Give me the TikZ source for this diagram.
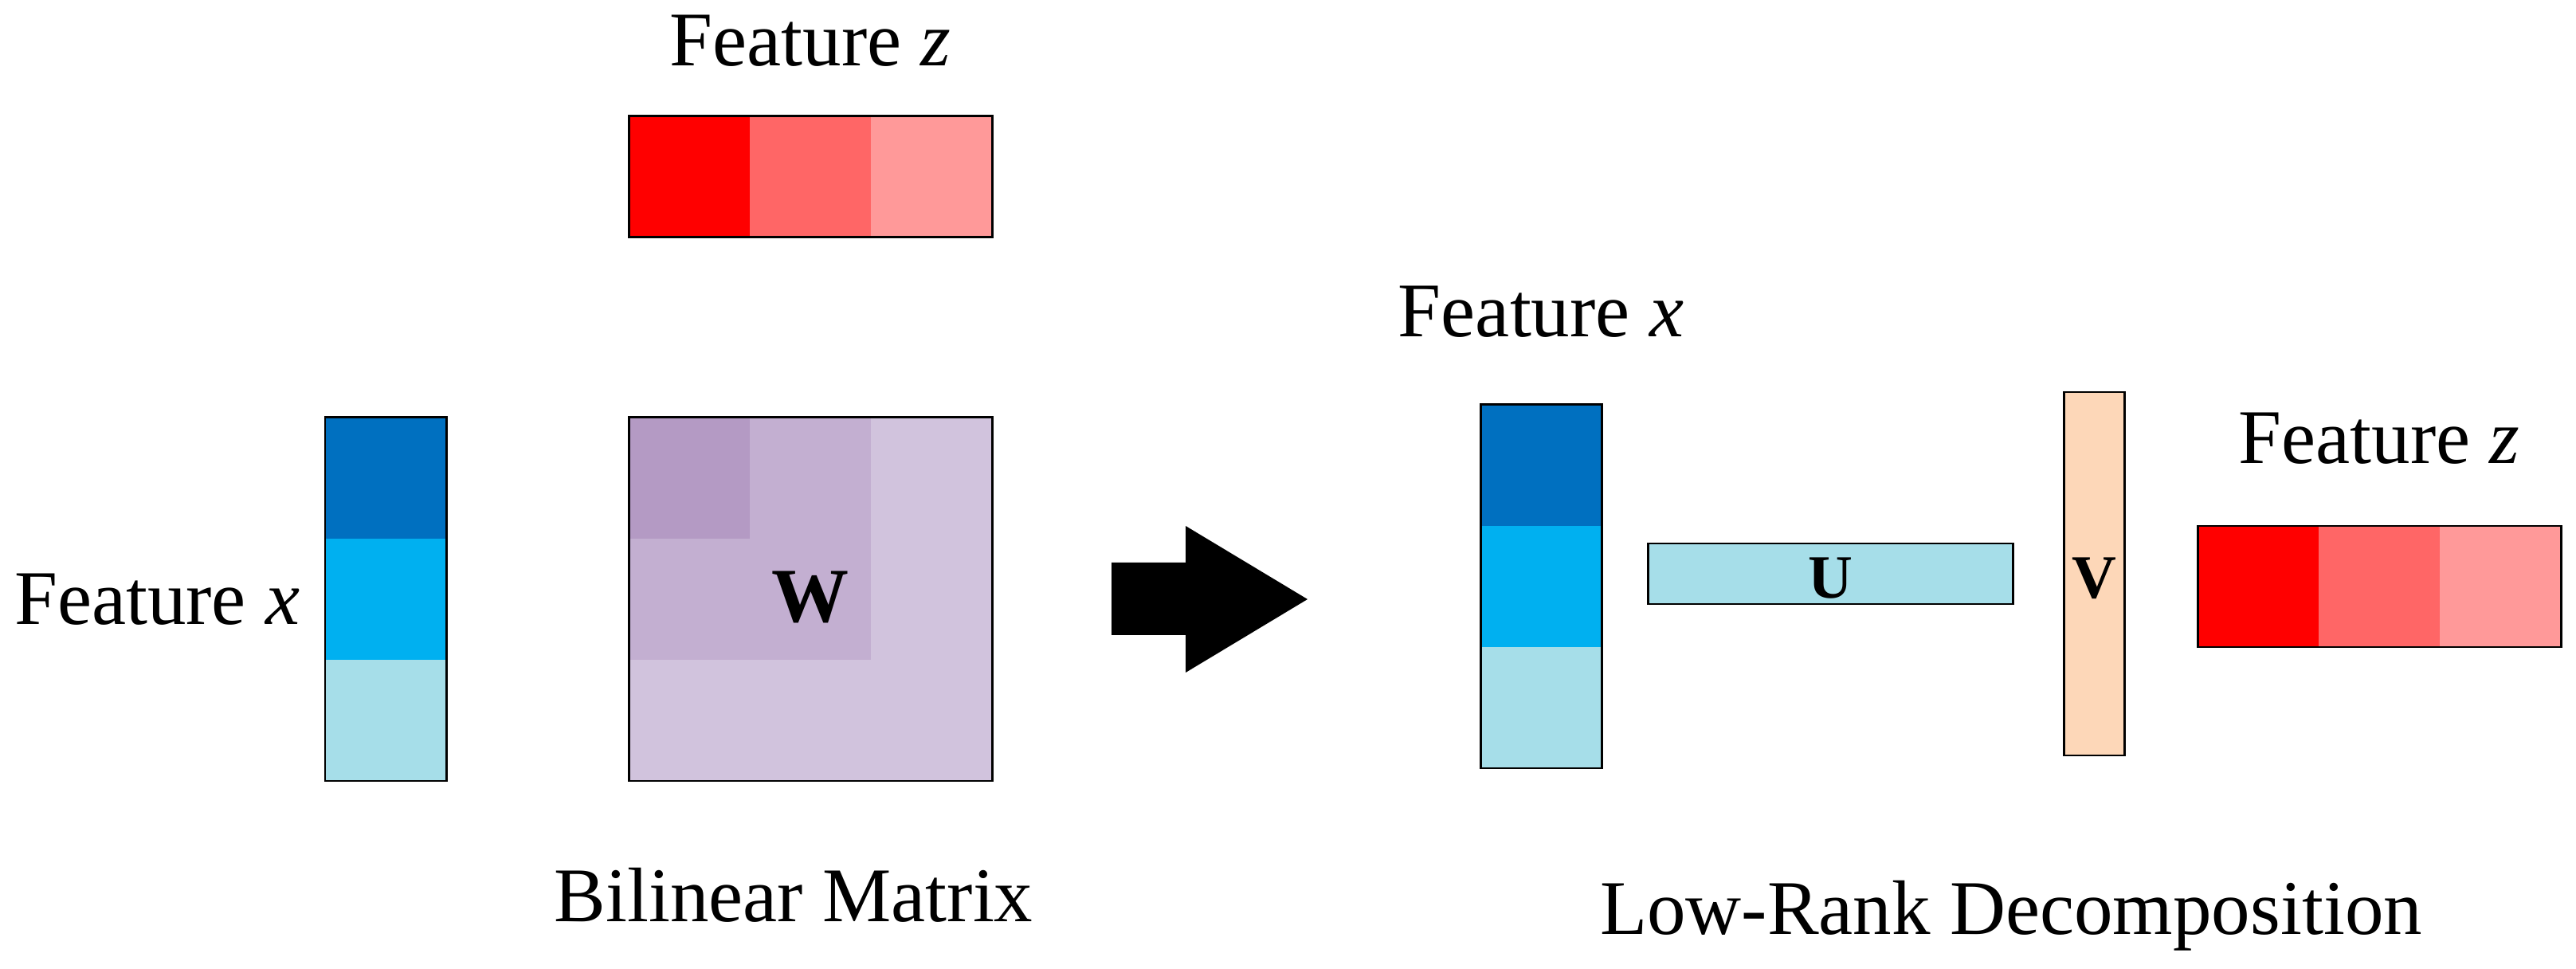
\documentclass[tikz,border=0pt]{standalone}
\usepackage{fontspec}
\setmainfont{Liberation Serif}
\usepackage{xcolor}
\usetikzlibrary{positioning}

\definecolor{blueA}{HTML}{0070C0}
\definecolor{blueB}{HTML}{00B0F0}
\definecolor{blueC}{HTML}{A6DEE9}
\definecolor{redA}{HTML}{FF0000}
\definecolor{redB}{HTML}{FF6666}
\definecolor{redC}{HTML}{FF9999}
\definecolor{purpleA}{HTML}{B49AC4}
\definecolor{purpleB}{HTML}{C3AFD1}
\definecolor{purpleC}{HTML}{D1C3DD}
\definecolor{peach}{HTML}{FDD7B8}

\begin{document}
\begin{tikzpicture}[box/.style={draw=black, line width=0.85pt},
  txt/.style={font=\fontsize{27.6}{33}\selectfont, inner sep=0pt},
  small/.style={font=\fontsize{22}{26}\selectfont\bfseries, inner sep=0pt}]
\useasboundingbox (0,0) rectangle (32.33,12.15);

% Feature z on top
\fill[redA] (7.89,9.17) rectangle (9.41,10.69);
\fill[redB] (9.41,9.17) rectangle (10.93,10.69);
\fill[redC] (10.93,9.17) rectangle (12.45,10.69);
\draw[box] (7.89,9.17) rectangle (12.45,10.69);
\node[txt, anchor=base] (zTop) at (10.17,11.32) {Feature \textit{z}};

% Feature x on the left
\fill[blueA] (4.08,5.39) rectangle (5.60,6.91);
\fill[blueB] (4.08,3.87) rectangle (5.60,5.39);
\fill[blueC] (4.08,2.35) rectangle (5.60,3.87);
\draw[box] (4.08,2.35) rectangle (5.60,6.91);
\node[txt, anchor=east] (xLeft) at (3.77,4.63) {Feature \textit{x}};

% Bilinear matrix W
\fill[purpleC] (7.89,2.35) rectangle (12.45,6.91);
\fill[purpleB] (7.89,3.87) rectangle (10.93,6.91);
\fill[purpleA] (7.89,5.39) rectangle (9.41,6.91);
\draw[box] (7.89,2.35) rectangle (12.45,6.91);
\node[txt, font=\fontsize{27.6}{33}\selectfont\bfseries] (W) at (10.17,4.66) {W};
\node[txt, anchor=base] (bilinear) at (9.96,0.59) {Bilinear Matrix};

% Big arrow
\fill[black] (13.95,4.18) -- (14.88,4.18) -- (14.88,3.71) -- (16.41,4.63)
  -- (14.88,5.55) -- (14.88,5.09) -- (13.95,5.09) -- cycle;

% Feature x on the right
\fill[blueA] (18.58,5.55) rectangle (20.10,7.07);
\fill[blueB] (18.58,4.03) rectangle (20.10,5.55);
\fill[blueC] (18.58,2.51) rectangle (20.10,4.03);
\draw[box] (18.58,2.51) rectangle (20.10,7.07);
\node[txt, anchor=base] (xRight) at (19.34,7.92) {Feature \textit{x}};

% U and V
\fill[blueC] (20.68,4.57) rectangle (25.26,5.33);
\draw[box] (20.68,4.57) rectangle (25.26,5.33);
\node[small] (U) at (22.97,4.89) {U};
\fill[peach] (25.90,2.67) rectangle (26.66,7.23);
\draw[box] (25.90,2.67) rectangle (26.66,7.23);
\node[small] (V) at (26.28,4.89) {V};

% Feature z on the right
\fill[redA] (27.58,4.03) rectangle (29.10,5.55);
\fill[redB] (29.10,4.03) rectangle (30.62,5.55);
\fill[redC] (30.62,4.03) rectangle (32.14,5.55);
\draw[box] (27.58,4.03) rectangle (32.14,5.55);
\node[txt, anchor=base] (zRight) at (29.86,6.33) {Feature \textit{z}};

\node[txt, anchor=base] (lowrank) at (25.24,0.43) {Low-Rank Decomposition};
\end{tikzpicture}
\end{document}
